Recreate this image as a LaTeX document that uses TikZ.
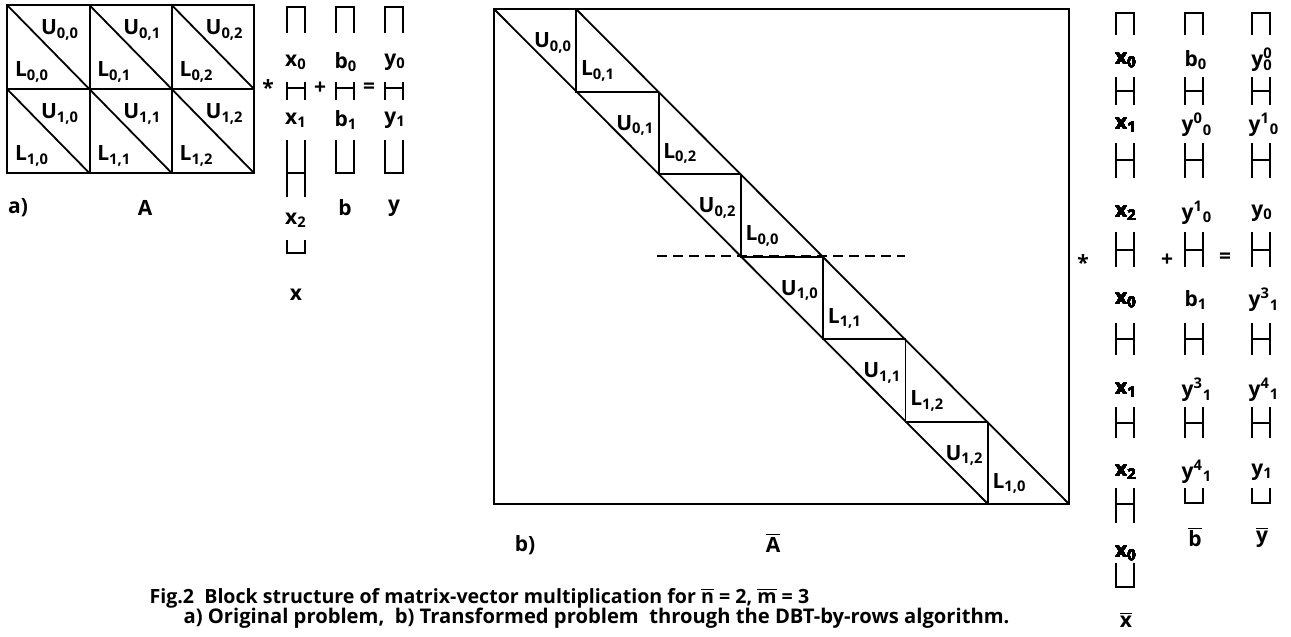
\documentclass[tikz,border=0pt]{standalone}
\usepackage{fontspec}
\setmainfont{Open Sans}
\newcommand{\vecTop}[3]{\draw (#1,#3) -- (#1,#2) -- (#1+18,#2) -- (#1+18,#3);}
\newcommand{\vecMid}[4]{\draw (#1,#2) -- (#1,#4) (#1+18,#2) -- (#1+18,#4) (#1,#3) -- (#1+18,#3);}
\newcommand{\vecBot}[3]{\draw (#1,#2) -- (#1,#3) -- (#1+18,#3) -- (#1+18,#2);}
\newcommand{\blk}[2]{#1\textsubscript{#2}}
\newcommand{\ysb}[2]{y\textsuperscript{#1}\textsubscript{#2}}
\newcommand{\barred}[1]{$\overline{\mbox{#1}}$}
\begin{document}
\begin{tikzpicture}[x=0.5pt,y=-0.5pt,line width=0.9pt,
  font=\bfseries\fontsize{10.5}{12}\selectfont,
  captxt/.style={anchor=west,font=\bfseries\fontsize{9.8}{11}\selectfont}]
  \useasboundingbox (0,0) rectangle (1291,637);
  % a) original block matrix A
  \draw (7,5) rectangle (254,173);
  \draw (7,89) -- (254,89);
  \foreach \x in {90,172} \draw (\x,5) -- (\x,173);
  \foreach \i in {0,1} \foreach \j in {0,1,2} {
    \pgfmathsetmacro\xa{7+82.33*\j}
    \pgfmathsetmacro\ya{5+84*\i}
    \draw (\xa,\ya) -- ++(82.33,84);
    \node (u\i\j) at (\xa+53,\ya+25) {\blk{U}{\i,\j}};
    \node (l\i\j) at (\xa+25,\ya+67) {\blk{L}{\i,\j}};
  }
  \node (opa) at (268,88) {*};
  \node (pla) at (320,88) {+};
  \node (eqa) at (369,88) {=};
  % vectors x, b, y
  \foreach \x in {287,336,385} {
    \vecTop{\x}{7}{33}
    \vecMid{\x}{82}{88}{100}
  }
  \vecMid{287}{140}{173}{197}
  \vecBot{287}{240}{253}
  \vecBot{336}{140}{173}
  \vecBot{385}{140}{173}
  \node (xa0) at (296,62) {\blk{x}{0}};
  \node (xa1) at (296,120) {\blk{x}{1}};
  \node (xa2) at (296,220) {\blk{x}{2}};
  \node (xa) at (296,295) {x};
  \node (ba0) at (346,62) {\blk{b}{0}};
  \node (ba1) at (346,120) {\blk{b}{1}};
  \node (ba) at (345,208) {b};
  \node (ya0) at (395,62) {\blk{y}{0}};
  \node (ya1) at (395,120) {\blk{y}{1}};
  \node (ya) at (394,208) {y};
  \node (laba) at (18,208) {a)};
  \node (amat) at (145,208) {A};
  % b) transformed matrix
  \draw (494,9) rectangle (1069,504);
  \draw (494,9) -- (988,504);
  \draw (576,9) -- (1069,504);
  \draw[dash pattern=on 5pt off 3pt] (657,256) -- (905,256);
  \foreach \k/\u/\l in {0/{0,0}/{0,1},1/{0,1}/{0,2},2/{0,2}/{0,0},
                        3/{1,0}/{1,1},4/{1,1}/{1,2},5/{1,2}/{1,0}} {
    \pgfmathsetmacro\xa{494+82.3*\k}
    \pgfmathsetmacro\ya{9+82.5*\k}
    \pgfmathsetmacro\yb{round(\ya+82.5)}
    \draw (\xa+82.3,\ya) -- (\xa+82.3,\yb) -- (\xa+164.6,\yb);
    \node (ub\k) at (\xa+59,\ya+34) {\blk{U}{\u}};
    \node (lb\k) at (\xa+104,\ya+62) {\blk{L}{\l}};
  }
  \node (labb) at (525,545) {b)};
  \node (abar) at (773,543) {\barred{A}};
  \node (opb) at (1083,263) {*};
  \node (plb) at (1167,260) {+};
  \node (eqb) at (1225,258) {=};
  % vectors x-bar, b-bar, y-bar
  \foreach \x in {1116,1185,1252} \vecTop{\x}{13}{35}
  \foreach \t/\m/\b in {77/91/105,143/160/178,232/250/267,323/339/355,407/423/438}
    \foreach \x in {1116,1185,1252} \vecMid{\x}{\t}{\m}{\b}
  \vecMid{1116}{488}{504}{523}
  \vecBot{1116}{563}{587}
  \vecBot{1185}{488}{503}
  \vecBot{1252}{488}{503}
  \foreach \n/\y/\s in {0/60/0,1/125/1,2/213/2,3/300/0,4/390/1,5/472/2,6/553/0}
    \node (xb\n) at (1126,\y) {\blk{x}{\s}};
  \node (xbar) at (1126,620) {\barred{x}};
  \node (bb0) at (1196,60) {\blk{b}{0}};
  \node (bb1) at (1197,125) {\ysb{0}{0}};
  \node (bb2) at (1197,213) {\ysb{1}{0}};
  \node (bb3) at (1196,300) {\blk{b}{1}};
  \node (bb4) at (1197,390) {\ysb{3}{1}};
  \node (bb5) at (1197,472) {\ysb{4}{1}};
  \node (bbar) at (1195,537) {\barred{b}};
  \node (yb0) at (1262,60) {y\rlap{\textsuperscript{0}}\textsubscript{0}};
  \node (yb1) at (1264,125) {\ysb{1}{0}};
  \node (yb2) at (1262,213) {\blk{y}{0}};
  \node (yb3) at (1264,300) {\ysb{3}{1}};
  \node (yb4) at (1264,390) {\ysb{4}{1}};
  \node (yb5) at (1262,472) {\blk{y}{1}};
  \node (ybar) at (1262,537) {\barred{y}};
  % caption
  \node[captxt] (cap1) at (142,598) {Fig.2\ \ Block structure of matrix-vector multiplication for \barred{n} = 2, \barred{m} = 3};
  \node[captxt,font=\bfseries\fontsize{10.1}{11}\selectfont] (cap2) at (176,618) {a) Original problem,\ \ b) Transformed problem\ \ through the DBT-by-rows algorithm.};
\end{tikzpicture}
\end{document}
